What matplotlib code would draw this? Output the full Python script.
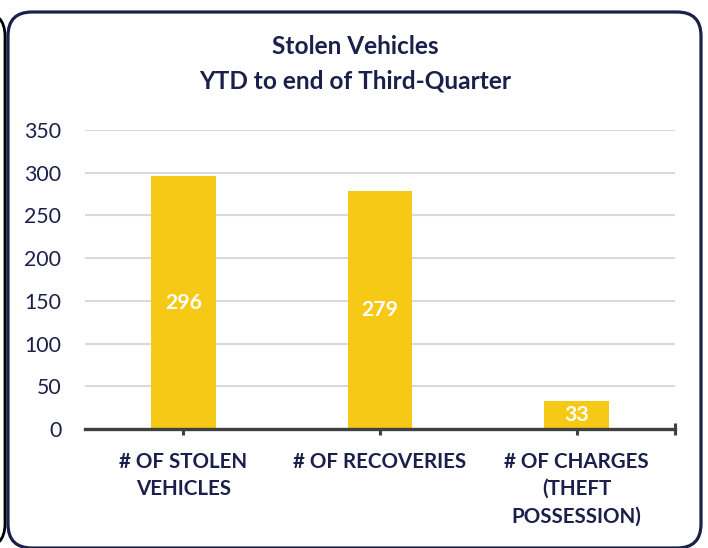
import matplotlib.pyplot as plt
from matplotlib.patches import FancyBboxPatch
import numpy as np

categories = ["# OF STOLEN\nVEHICLES", "# OF RECOVERIES", "# OF CHARGES\n(THEFT\nPOSSESSION)"]
values = [296, 279, 33]
y_ticks = [0, 50, 100, 150, 200, 250, 300, 350]

navy = "#1b1f4b"
bar_color = "#f6c916"

plt.rcParams['font.family'] = ['Lato', 'DejaVu Sans']

fig = plt.figure(figsize=(7.08, 5.48), dpi=100)

# background frame in pixel coordinates
bg = fig.add_axes([0, 0, 1, 1], zorder=0)
bg.set_xlim(0, 708)
bg.set_ylim(548, 0)
bg.axis("off")
frame = FancyBboxPatch((8, 12), 693, 536, boxstyle="round,pad=0,rounding_size=24",
                       fill=False, edgecolor=navy, linewidth=2.3)
bg.add_patch(frame)
# edge of the neighbouring panel
other = FancyBboxPatch((-700, 12), 705, 536, boxstyle="round,pad=0,rounding_size=24",
                       fill=False, edgecolor="black", linewidth=2.0)
bg.add_patch(other)

ax = fig.add_axes([85 / 708, 1 - 429 / 548, 590 / 708, 299 / 548], zorder=1)
ax.patch.set_alpha(0)

x = np.arange(len(categories))
bars = ax.bar(x, values, width=0.33, color=bar_color, zorder=2)
ax.set_xlim(-0.5, 2.5)
ax.set_ylim(0, 350)
ax.set_yticks(y_ticks)
ax.yaxis.grid(True, color="#d9d9d9", linewidth=1.5, zorder=0)
ax.set_axisbelow(True)

for s in ["top", "right", "left"]:
    ax.spines[s].set_visible(False)
ax.spines["bottom"].set_color("#404040")
ax.spines["bottom"].set_linewidth(2.4)
ax.spines["bottom"].set_zorder(3)

ax.set_xticks(list(x) + [2.5])
ax.set_xticklabels(categories + [""], fontsize=14.8, fontweight="bold", color=navy,
                   linespacing=1.45, va="top")
ax.tick_params(axis="x", direction="inout", length=9, width=2.2, color="#404040", pad=12)
ax.tick_params(axis="y", length=0, labelsize=15.3, labelcolor=navy, pad=17)

for b, v in zip(bars, values):
    ax.text(b.get_x() + b.get_width() / 2, v / 2, str(v), ha="center", va="center",
            color="white", fontsize=15.3, fontweight="bold", zorder=4)

fig.text(355 / 708, 1 - 47 / 548, "Stolen Vehicles", ha="center", va="center",
         fontsize=17.6, fontweight="bold", color=navy)
fig.text(355 / 708, 1 - 81 / 548, "YTD to end of Third-Quarter", ha="center", va="center",
         fontsize=17.6, fontweight="bold", color=navy)

fig.savefig("out.png", dpi=100)
